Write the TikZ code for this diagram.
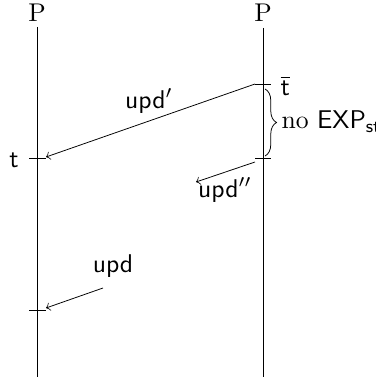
\documentclass[tikz,border=0pt]{standalone}
\usetikzlibrary{decorations.pathreplacing}
\begin{document}
\begin{tikzpicture}[x=0.39pt,y=-0.39pt,
  lbl/.style={inner sep=0pt,font=\sffamily},
  tickmark/.style={line width=0.3pt},
  msg/.style={->,line width=0.3pt},
  lifeline/.style={line width=0.3pt}]
\useasboundingbox (0,0) rectangle (376,383);
% process labels
\node[inner sep=0pt] (pl) at (37,13) {P};
\node[inner sep=0pt] (pr) at (263,13) {P};
% lifelines
\coordinate (l0) at (37,27);
\coordinate (l1) at (37,377);
\coordinate (r0) at (263,28);
\coordinate (r1) at (263,377);
\draw[lifeline] (l0) -- (l1);
\draw[lifeline] (r0) -- (r1);
% ticks
\coordinate (rtA) at (255,84); \coordinate (rtAe) at (271,84);
\coordinate (rtB) at (255,158); \coordinate (rtBe) at (271,158);
\coordinate (ltA) at (29,158); \coordinate (ltAe) at (46,158);
\coordinate (ltB) at (29,310); \coordinate (ltBe) at (46,310);
\draw[tickmark] (rtA) -- (rtAe);
\draw[tickmark] (rtB) -- (rtBe);
\draw[tickmark] (ltA) -- (ltAe);
\draw[tickmark] (ltB) -- (ltBe);
% tick labels
\node[lbl,anchor=west] (tbar) at (280,86) {$\overline{\mbox{\sffamily t}}$};
\node[lbl] (tl) at (14,160) {t};
% messages
\coordinate (m1e) at (46,157);
\draw[msg] (rtA) -- (m1e);
\node[lbl] (u1) at (149,101) {upd$'$};
\coordinate (m2s) at (255,162);
\coordinate (m2e) at (196,182);
\draw[msg] (m2s) -- (m2e);
\node[lbl] (u2) at (225,190) {upd$''$};
\coordinate (m3s) at (103,288);
\coordinate (m3e) at (46,308);
\draw[msg] (m3s) -- (m3e);
\node[lbl] (u3) at (113,266) {upd};
% brace
\coordinate (b0) at (265,89);
\coordinate (b1) at (265,156);
\draw[line width=0.3pt,decorate,decoration={brace,amplitude=4.5pt,mirror}] (b1) -- (b0);
\node[inner sep=0pt,anchor=west] (noexp) at (281,122) {no \textsf{EXP}$_{\mbox{\scriptsize\sffamily st}}$};
\end{tikzpicture}
\end{document}
